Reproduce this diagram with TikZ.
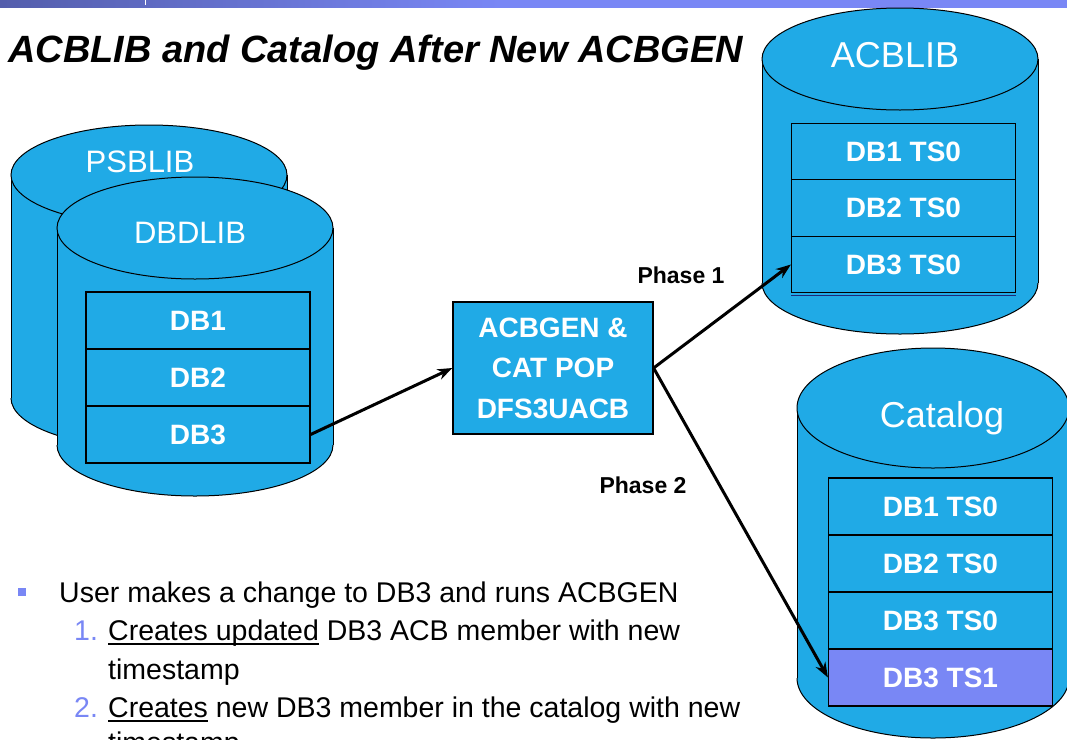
\documentclass[tikz,border=0pt]{standalone}
\usepackage{fontspec}
\setmainfont{Liberation Sans}
\usetikzlibrary{arrows.meta}
\definecolor{cylblue}{RGB}{32,170,230}
\definecolor{peri}{RGB}{121,135,245}
\definecolor{bardark}{RGB}{84,94,172}
\definecolor{navyline}{RGB}{30,40,120}
\newcommand\myul[1]{\setbox0\hbox{#1}\rlap{\rule[-4.5pt]{\wd0}{1.8pt}}\box0\relax}
% cx, top centre y, bottom centre y, x radius, y radius
\newcommand\mycyl[5]{%
  \fill[cylblue] (#1-#4,#2) rectangle (#1+#4,#3);
  \begin{scope}
    \clip (#1-#4-3,#3) rectangle (#1+#4+3,#3+#5+3);
    \filldraw[fill=cylblue, draw=black, line width=1pt] (#1,#3) ellipse [x radius=#4, y radius=#5];
  \end{scope}
  \draw[line width=1pt] (#1-#4,#2) -- (#1-#4,#3) (#1+#4,#2) -- (#1+#4,#3);
  \filldraw[fill=cylblue, draw=black, line width=1pt] (#1,#2) ellipse [x radius=#4, y radius=#5];
}
\tikzset{
  rowbox/.style={draw=black, line width=1.2pt, fill=cylblue, minimum width=224pt,
    minimum height=57pt, inner sep=0pt, text=white,
    font=\bfseries\fontsize{28}{34}\selectfont},
  cyllabel/.style={anchor=base, inner sep=0pt, text=white},
  arr/.style={line width=3pt, -{Stealth[length=15pt, width=11pt]}},
  phase/.style={anchor=base, inner sep=0pt, font=\bfseries\fontsize{23}{28}\selectfont},
  body/.style={anchor=base west, inner sep=0pt, font=\fontsize{28.5}{34}\selectfont},
}
\begin{document}
\begin{tikzpicture}[x=1pt, y=-1pt]
\useasboundingbox (0,0) rectangle (1067,739);
\clip (0,0) rectangle (1067,739);
\fill[white] (0,0) rectangle (1067,739);
% top bar
\fill[peri] (0,-1) rectangle (1067,7.5);
\shade[left color=bardark, right color=peri] (0,-1) rectangle (500,7.5);
\draw[white, line width=1pt] (145,0) -- (145,5);
% title
\node[anchor=base west, inner sep=0pt, font=\bfseries\itshape\fontsize{38}{44}\selectfont] (title) at (8,62) {ACBLIB and Catalog After New ACBGEN};
% left cylinders
\mycyl{149}{175}{398}{138}{50}
\node[cyllabel, font=\fontsize{31}{36}\selectfont] (psblib) at (140,172) {PSBLIB};
\mycyl{195}{228}{445}{138}{51}
\node[cyllabel, font=\fontsize{31}{36}\selectfont] (dbdlib) at (190,243) {DBDLIB};
\node[rowbox] (d1) at (198,320.5) {DB1};
\node[rowbox] (d2) at (198,377.5) {DB2};
\node[rowbox] (d3) at (198,434.5) {DB3};
% ACBLIB cylinder
\mycyl{900}{59}{283}{138}{51}
\node[cyllabel, font=\fontsize{36}{42}\selectfont] (acblib) at (895,67) {ACBLIB};
\draw[navyline, line width=1pt] (791,295) -- (1016,295);
\node[rowbox, minimum height=56.5pt] (a1) at (903.5,151.5) {DB1 TS0};
\node[rowbox, minimum height=56.5pt] (a2) at (903.5,208) {DB2 TS0};
\node[rowbox, minimum height=56.5pt] (a3) at (903.5,264.5) {DB3 TS0};
% Catalog cylinder
\mycyl{933}{408}{678}{136}{60}
\node[cyllabel, font=\fontsize{36}{42}\selectfont] (catalog) at (942,427) {Catalog};
\node[rowbox] (c1) at (940.5,506.5) {DB1 TS0};
\node[rowbox] (c2) at (940.5,563.5) {DB2 TS0};
\node[rowbox] (c3) at (940.5,620.5) {DB3 TS0};
\node[rowbox, fill=peri] (c4) at (940.5,677.5) {DB3 TS1};
% ACBGEN box
\node[draw=black, line width=1.2pt, fill=cylblue, minimum width=200pt, minimum height=132pt,
  inner sep=0pt, text=white, align=center, font=\bfseries\fontsize{28}{40.5}\selectfont]
  (gen) at (553,368) {ACBGEN \&\\CAT POP\\DFS3UACB};
% connectors
\draw[arr] (d3.east) -- (gen.west);
\draw[arr] (gen.east) -- (a3.west);
\draw[arr] (gen.east) -- (c4.west);
\node[phase] (p1) at (681,283) {Phase 1};
\node[phase] (p2) at (643,493) {Phase 2};
% bullet text
\fill[peri] (18,588) rectangle (26,596);
\node[body] (l1) at (59,602) {User makes a change to DB3 and runs ACBGEN};
\node[body, text=peri] (n1) at (74,640) {1.};
\node[body] (l2) at (108,640) {\myul{Creates updated} DB3 ACB member with new};
\node[body] (l3) at (108,679) {timestamp};
\node[body, text=peri] (n2) at (74,717) {2.};
\node[body] (l4) at (108,717) {\myul{Creates} new DB3 member in the catalog with new};
\node[body] (l5) at (108,752) {timestamp};
\end{tikzpicture}
\end{document}
